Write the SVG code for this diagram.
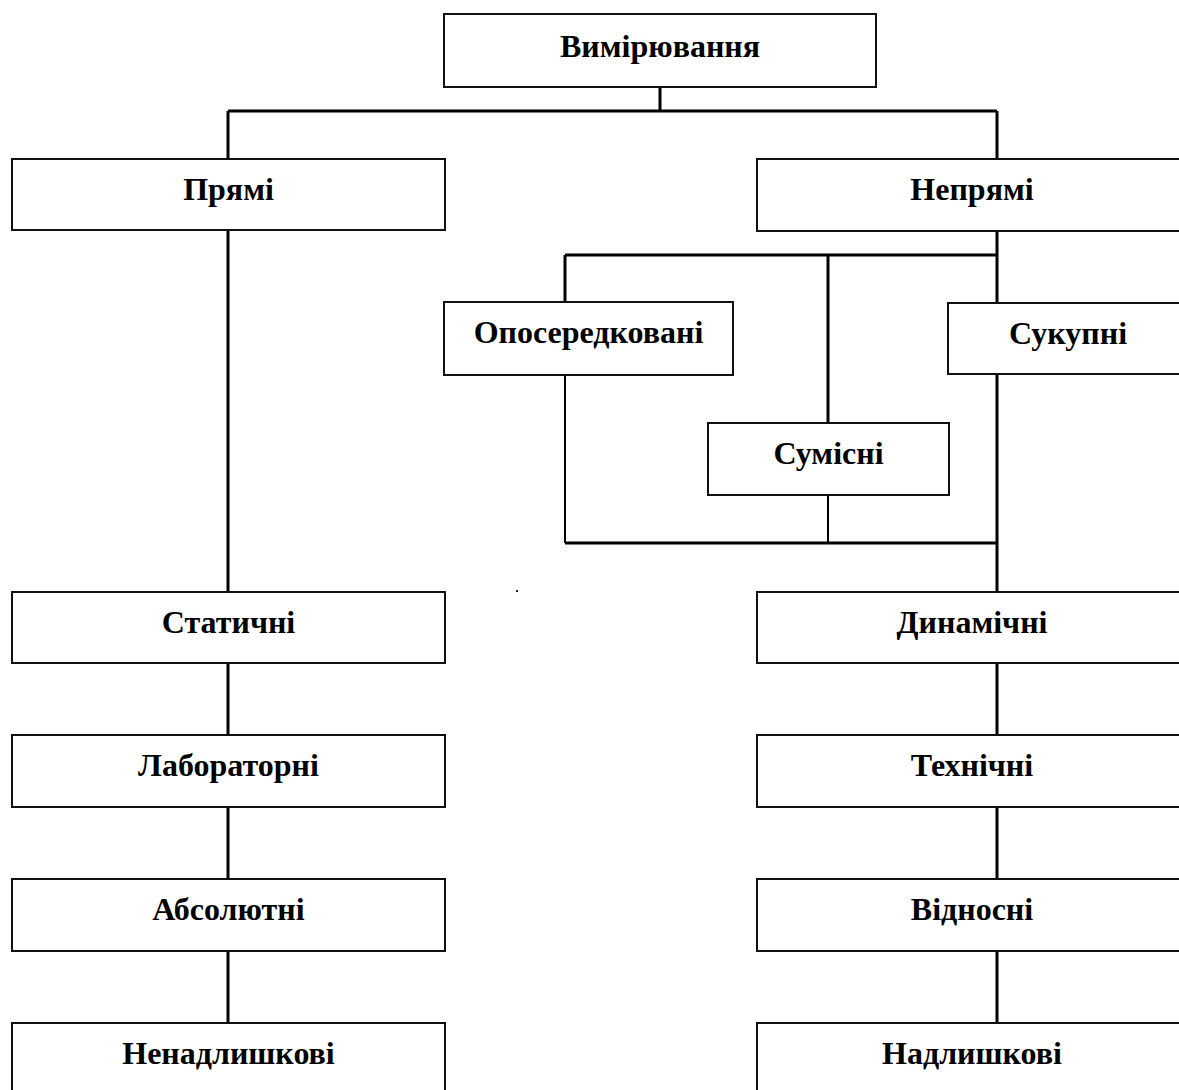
<svg xmlns="http://www.w3.org/2000/svg" width="1179" height="1090" viewBox="0 0 1179 1090">
<style>
.box{fill:#fff;stroke:#111;stroke-width:2}
.lbl{font-family:"Liberation Serif","Times New Roman",serif;font-weight:bold;font-size:32px;fill:#000;text-anchor:middle}
.con{stroke:#000;stroke-width:3;fill:none}
.thin{stroke-width:2}
</style>
<rect width="1179" height="1090" fill="#fff"/>
<g id="connectors">
<path class="con" d="M660 87V111M228 111H997M228 111V159M997 111V159"/>
<path class="con" d="M228 230V592M228 663V735M228 807V879M228 951V1023"/>
<path class="con" d="M997 231V592M997 663V735M997 807V879M997 951V1023"/>
<path class="con" d="M565 255H997M565 255V302M828 255V423"/>
<path class="con thin" d="M565 375V543M828 495V543"/>
<path class="con" d="M565 543H997"/>
</g>
<g id="n-vymiryuvannia"><rect class="box" x="444" y="14" width="432" height="73"/><text class="lbl" x="660" y="57">Вимірювання</text></g>
<g id="n-priami"><rect class="box" x="12" y="159" width="433" height="71"/><text class="lbl" x="228.5" y="200">Прямі</text></g>
<g id="n-nepriami"><rect class="box" x="757" y="159" width="433" height="72"/><text class="lbl" x="972" y="200">Непрямі</text></g>
<g id="n-oposeredkovani"><rect class="box" x="444" y="302" width="289" height="73"/><text class="lbl" x="588.5" y="343">Опосередковані</text></g>
<g id="n-sukupni"><rect class="box" x="948" y="303" width="240" height="71"/><text class="lbl" x="1068" y="344">Сукупні</text></g>
<g id="n-sumisni"><rect class="box" x="708" y="423" width="241" height="72"/><text class="lbl" x="828.5" y="464">Сумісні</text></g>
<g id="n-statychni"><rect class="box" x="12" y="592" width="433" height="71"/><text class="lbl" x="228.5" y="633">Статичні</text></g>
<g id="n-dynamichni"><rect class="box" x="757" y="592" width="433" height="71"/><text class="lbl" x="972" y="633">Динамічні</text></g>
<g id="n-laboratorni"><rect class="box" x="12" y="735" width="433" height="72"/><text class="lbl" x="228.5" y="776">Лабораторні</text></g>
<g id="n-tekhnichni"><rect class="box" x="757" y="735" width="433" height="72"/><text class="lbl" x="972" y="776">Технічні</text></g>
<g id="n-absoliutni"><rect class="box" x="12" y="879" width="433" height="72"/><text class="lbl" x="228.5" y="920">Абсолютні</text></g>
<g id="n-vidnosni"><rect class="box" x="757" y="879" width="433" height="72"/><text class="lbl" x="972" y="920">Відносні</text></g>
<g id="n-nenadlyshkovi"><rect class="box" x="12" y="1023" width="433" height="80"/><text class="lbl" x="228.5" y="1064">Ненадлишкові</text></g>
<g id="n-nadlyshkovi"><rect class="box" x="757" y="1023" width="433" height="80"/><text class="lbl" x="972" y="1064">Надлишкові</text></g>
<rect x="516" y="590" width="2" height="2" fill="#222"/>
</svg>
